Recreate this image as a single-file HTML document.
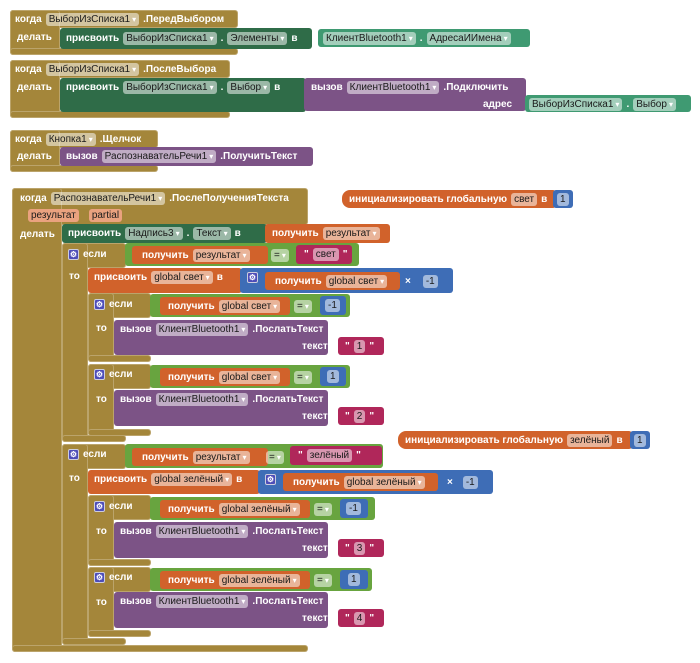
<!DOCTYPE html>
<html><head><meta charset="utf-8"><style>
body{margin:0;width:700px;height:663px;background:#fff;position:relative;overflow:hidden;font-family:"Liberation Sans",sans-serif}
.b{position:absolute;box-sizing:border-box;border-radius:3px}
.g{background:#a4863a;border:1px solid rgba(255,255,255,.25)}
.dg{background:#2f6c48}
.tl{background:#3f9a72}
.pu{background:#7c5386}
.or{background:#d1622b}
.gr{background:#68a43f}
.bl{background:#3e6db6}
.cr{background:#b0275a}
.r{position:absolute;display:flex;align-items:center;gap:4px;font:bold 10px "Liberation Sans",sans-serif;color:#fff;white-space:nowrap;height:16px}
.f{background:rgba(255,255,255,.52);color:#1a1a1a;border-radius:3px;padding:0 3px;font-weight:normal;line-height:13px;height:13px;display:inline-flex;align-items:center;gap:2px}
.f s{text-decoration:none;color:#fff;font-size:8px}
.p{background:#eaa27f}
.gear{display:inline-flex;width:11px;height:11px;background:#4d4db8;border:1px solid #ccd;border-radius:2px;color:#fff;font-size:8px;align-items:center;justify-content:center;box-sizing:border-box}
</style></head><body>

<div class="b g" style="left:10px;top:10px;width:228px;height:18px"></div>
<div class="b g" style="left:10px;top:10px;width:50px;height:45px"></div>
<div class="b g" style="left:10px;top:48px;width:228px;height:7px"></div>
<div class="b dg" style="left:60px;top:28px;width:252px;height:21px"></div>
<div class="b tl" style="left:318px;top:29px;width:212px;height:18px"></div>
<div class="r" style="left:15px;top:11px">когда <span class="f">ВыборИзСписка1 <s>▾</s></span> .ПередВыбором</div>
<div class="r" style="left:17px;top:29px">делать</div>
<div class="r" style="left:66px;top:30px">присвоить <span class="f">ВыборИзСписка1 <s>▾</s></span> . <span class="f">Элементы <s>▾</s></span> в</div>
<div class="r" style="left:323px;top:30px"><span class="f">КлиентBluetooth1 <s>▾</s></span> . <span class="f">АдресаИИмена <s>▾</s></span></div>

<div class="b g" style="left:10px;top:60px;width:220px;height:18px"></div>
<div class="b g" style="left:10px;top:60px;width:50px;height:58px"></div>
<div class="b g" style="left:10px;top:111px;width:220px;height:7px"></div>
<div class="b dg" style="left:60px;top:78px;width:246px;height:34px"></div>
<div class="b pu" style="left:304px;top:78px;width:222px;height:33px"></div>
<div class="b tl" style="left:525px;top:95px;width:166px;height:17px"></div>
<div class="r" style="left:15px;top:61px">когда <span class="f">ВыборИзСписка1 <s>▾</s></span> .ПослеВыбора</div>
<div class="r" style="left:17px;top:79px">делать</div>
<div class="r" style="left:66px;top:79px">присвоить <span class="f">ВыборИзСписка1 <s>▾</s></span> . <span class="f">Выбор <s>▾</s></span> в</div>
<div class="r" style="left:311px;top:79px">вызов <span class="f">КлиентBluetooth1 <s>▾</s></span> .Подключить</div>
<div class="r" style="left:483px;top:96px">адрес</div>
<div class="r" style="left:529px;top:96px"><span class="f">ВыборИзСписка1 <s>▾</s></span> . <span class="f">Выбор <s>▾</s></span></div>

<div class="b g" style="left:10px;top:130px;width:148px;height:18px"></div>
<div class="b g" style="left:10px;top:130px;width:50px;height:42px"></div>
<div class="b g" style="left:10px;top:165px;width:148px;height:7px"></div>
<div class="b pu" style="left:60px;top:147px;width:253px;height:19px"></div>
<div class="r" style="left:15px;top:131px">когда <span class="f">Кнопка1 <s>▾</s></span> .Щелчок</div>
<div class="r" style="left:17px;top:148px">делать</div>
<div class="r" style="left:66px;top:148px">вызов <span class="f">РаспознавательРечи1 <s>▾</s></span> .ПолучитьТекст</div>

<div class="b g" style="left:12px;top:188px;width:296px;height:37px"></div>
<div class="b g" style="left:12px;top:188px;width:50px;height:464px"></div>
<div class="b g" style="left:12px;top:645px;width:296px;height:7px"></div>
<div class="r" style="left:20px;top:190px">когда <span class="f">РаспознавательРечи1 <s>▾</s></span> .ПослеПолученияТекста</div>
<div class="r" style="left:28px;top:207px;gap:10px"><span class="f p">результат</span><span class="f p">partial</span></div>
<div class="r" style="left:20px;top:226px">делать</div>
<div class="b dg" style="left:62px;top:224px;width:205px;height:19px"></div>
<div class="b or" style="left:265px;top:224px;width:125px;height:19px"></div>
<div class="r" style="left:68px;top:225px">присвоить <span class="f">Надпись3 <s>▾</s></span> . <span class="f">Текст <s>▾</s></span> в</div>
<div class="r" style="left:272px;top:225px">получить <span class="f">результат <s>▾</s></span></div>

<div class="b g" style="left:62px;top:243px;width:64px;height:25px"></div>
<div class="b g" style="left:62px;top:243px;width:26px;height:199px"></div>
<div class="b g" style="left:62px;top:435px;width:64px;height:7px"></div>
<div class="r" style="left:68px;top:246px"><span class="gear">⚙</span> если</div>
<div class="r" style="left:69px;top:268px">то</div>
<div class="b gr" style="left:125px;top:243px;width:234px;height:23px"></div>
<div class="b or" style="left:132px;top:246px;width:136px;height:18px"></div>
<div class="r" style="left:142px;top:247px">получить <span class="f">результат <s>▾</s></span></div>
<div class="r" style="left:271px;top:247px"><span class="f">= <s>▾</s></span></div>
<div class="b cr" style="left:296px;top:245px;width:56px;height:19px"></div>
<div class="r" style="left:304px;top:246px">" <span class="f">свет</span> "</div>
<div class="b or" style="left:88px;top:268px;width:154px;height:25px"></div>
<div class="r" style="left:94px;top:269px">присвоить <span class="f">global свет <s>▾</s></span> в</div>
<div class="b bl" style="left:240px;top:268px;width:213px;height:25px"></div>
<div class="r" style="left:247px;top:269px"><span class="gear">⚙</span></div>
<div class="b or" style="left:265px;top:272px;width:135px;height:18px"></div>
<div class="r" style="left:275px;top:273px">получить <span class="f">global свет <s>▾</s></span></div>
<div class="r" style="left:405px;top:273px">× <span class="f" style="margin-left:8px">-1</span></div>

<div class="b g" style="left:88px;top:293px;width:63px;height:25px"></div>
<div class="b g" style="left:88px;top:293px;width:26px;height:69px"></div>
<div class="b g" style="left:88px;top:355px;width:63px;height:7px"></div>
<div class="r" style="left:94px;top:296px"><span class="gear">⚙</span> если</div>
<div class="r" style="left:96px;top:320px">то</div>
<div class="b gr" style="left:150px;top:294px;width:200px;height:23px"></div>
<div class="b or" style="left:160px;top:297px;width:130px;height:18px"></div>
<div class="r" style="left:168px;top:298px">получить <span class="f">global свет <s>▾</s></span></div>
<div class="r" style="left:294px;top:298px"><span class="f">= <s>▾</s></span></div>
<div class="b bl" style="left:320px;top:296px;width:26px;height:19px"></div>
<div class="r" style="left:325px;top:297px"><span class="f">-1</span></div>
<div class="b pu" style="left:114px;top:320px;width:214px;height:35px"></div>
<div class="r" style="left:120px;top:321px">вызов <span class="f">КлиентBluetooth1 <s>▾</s></span> .ПослатьТекст</div>
<div class="r" style="left:302px;top:338px">текст</div>
<div class="b cr" style="left:338px;top:337px;width:46px;height:18px"></div>
<div class="r" style="left:345px;top:338px">" <span class="f">1</span> "</div>

<div class="b g" style="left:88px;top:364px;width:63px;height:25px"></div>
<div class="b g" style="left:88px;top:364px;width:26px;height:72px"></div>
<div class="b g" style="left:88px;top:429px;width:63px;height:7px"></div>
<div class="r" style="left:94px;top:366px"><span class="gear">⚙</span> если</div>
<div class="r" style="left:96px;top:391px">то</div>
<div class="b gr" style="left:150px;top:365px;width:200px;height:23px"></div>
<div class="b or" style="left:160px;top:368px;width:130px;height:18px"></div>
<div class="r" style="left:168px;top:369px">получить <span class="f">global свет <s>▾</s></span></div>
<div class="r" style="left:294px;top:369px"><span class="f">= <s>▾</s></span></div>
<div class="b bl" style="left:320px;top:367px;width:26px;height:19px"></div>
<div class="r" style="left:327px;top:368px"><span class="f">1</span></div>
<div class="b pu" style="left:114px;top:390px;width:214px;height:36px"></div>
<div class="r" style="left:120px;top:391px">вызов <span class="f">КлиентBluetooth1 <s>▾</s></span> .ПослатьТекст</div>
<div class="r" style="left:302px;top:408px">текст</div>
<div class="b cr" style="left:338px;top:407px;width:46px;height:18px"></div>
<div class="r" style="left:345px;top:408px">" <span class="f">2</span> "</div>

<div class="b g" style="left:62px;top:444px;width:64px;height:25px"></div>
<div class="b g" style="left:62px;top:444px;width:26px;height:201px"></div>
<div class="b g" style="left:62px;top:638px;width:64px;height:7px"></div>
<div class="r" style="left:68px;top:446px"><span class="gear">⚙</span> если</div>
<div class="r" style="left:69px;top:470px">то</div>
<div class="b gr" style="left:125px;top:444px;width:258px;height:24px"></div>
<div class="b or" style="left:132px;top:448px;width:136px;height:18px"></div>
<div class="r" style="left:142px;top:449px">получить <span class="f">результат <s>▾</s></span></div>
<div class="r" style="left:266px;top:449px"><span class="f">= <s>▾</s></span></div>
<div class="b cr" style="left:290px;top:446px;width:92px;height:19px"></div>
<div class="r" style="left:298px;top:447px">" <span class="f">зелёный</span> "</div>
<div class="b or" style="left:88px;top:470px;width:172px;height:24px"></div>
<div class="r" style="left:94px;top:471px">присвоить <span class="f">global зелёный <s>▾</s></span> в</div>
<div class="b bl" style="left:258px;top:470px;width:235px;height:24px"></div>
<div class="r" style="left:265px;top:471px"><span class="gear">⚙</span></div>
<div class="b or" style="left:283px;top:473px;width:155px;height:18px"></div>
<div class="r" style="left:293px;top:474px">получить <span class="f">global зелёный <s>▾</s></span></div>
<div class="r" style="left:447px;top:474px">× <span class="f" style="margin-left:6px">-1</span></div>

<div class="b g" style="left:88px;top:495px;width:63px;height:25px"></div>
<div class="b g" style="left:88px;top:495px;width:26px;height:71px"></div>
<div class="b g" style="left:88px;top:559px;width:63px;height:7px"></div>
<div class="r" style="left:94px;top:498px"><span class="gear">⚙</span> если</div>
<div class="r" style="left:96px;top:523px">то</div>
<div class="b gr" style="left:150px;top:497px;width:225px;height:23px"></div>
<div class="b or" style="left:160px;top:500px;width:150px;height:18px"></div>
<div class="r" style="left:168px;top:501px">получить <span class="f">global зелёный <s>▾</s></span></div>
<div class="r" style="left:314px;top:501px"><span class="f">= <s>▾</s></span></div>
<div class="b bl" style="left:340px;top:499px;width:28px;height:19px"></div>
<div class="r" style="left:346px;top:500px"><span class="f">-1</span></div>
<div class="b pu" style="left:114px;top:522px;width:214px;height:36px"></div>
<div class="r" style="left:120px;top:523px">вызов <span class="f">КлиентBluetooth1 <s>▾</s></span> .ПослатьТекст</div>
<div class="r" style="left:302px;top:540px">текст</div>
<div class="b cr" style="left:338px;top:539px;width:46px;height:18px"></div>
<div class="r" style="left:345px;top:540px">" <span class="f">3</span> "</div>

<div class="b g" style="left:88px;top:567px;width:63px;height:25px"></div>
<div class="b g" style="left:88px;top:567px;width:26px;height:70px"></div>
<div class="b g" style="left:88px;top:630px;width:63px;height:7px"></div>
<div class="r" style="left:94px;top:569px"><span class="gear">⚙</span> если</div>
<div class="r" style="left:96px;top:594px">то</div>
<div class="b gr" style="left:150px;top:568px;width:222px;height:23px"></div>
<div class="b or" style="left:160px;top:571px;width:150px;height:18px"></div>
<div class="r" style="left:168px;top:572px">получить <span class="f">global зелёный <s>▾</s></span></div>
<div class="r" style="left:314px;top:572px"><span class="f">= <s>▾</s></span></div>
<div class="b bl" style="left:340px;top:570px;width:28px;height:19px"></div>
<div class="r" style="left:348px;top:571px"><span class="f">1</span></div>
<div class="b pu" style="left:114px;top:592px;width:214px;height:36px"></div>
<div class="r" style="left:120px;top:593px">вызов <span class="f">КлиентBluetooth1 <s>▾</s></span> .ПослатьТекст</div>
<div class="r" style="left:302px;top:610px">текст</div>
<div class="b cr" style="left:338px;top:609px;width:46px;height:18px"></div>
<div class="r" style="left:345px;top:610px">" <span class="f">4</span> "</div>

<div class="b or" style="left:342px;top:190px;width:214px;height:18px;border-radius:8px 3px 3px 8px"></div>
<div class="r" style="left:349px;top:191px">инициализировать глобальную <span class="f">свет</span> в</div>
<div class="b bl" style="left:553px;top:190px;width:20px;height:18px"></div>
<div class="r" style="left:557px;top:191px"><span class="f">1</span></div>

<div class="b or" style="left:398px;top:431px;width:234px;height:18px;border-radius:8px 3px 3px 8px"></div>
<div class="r" style="left:405px;top:432px">инициализировать глобальную <span class="f">зелёный</span> в</div>
<div class="b bl" style="left:630px;top:431px;width:20px;height:18px"></div>
<div class="r" style="left:634px;top:432px"><span class="f">1</span></div>

</body></html>
